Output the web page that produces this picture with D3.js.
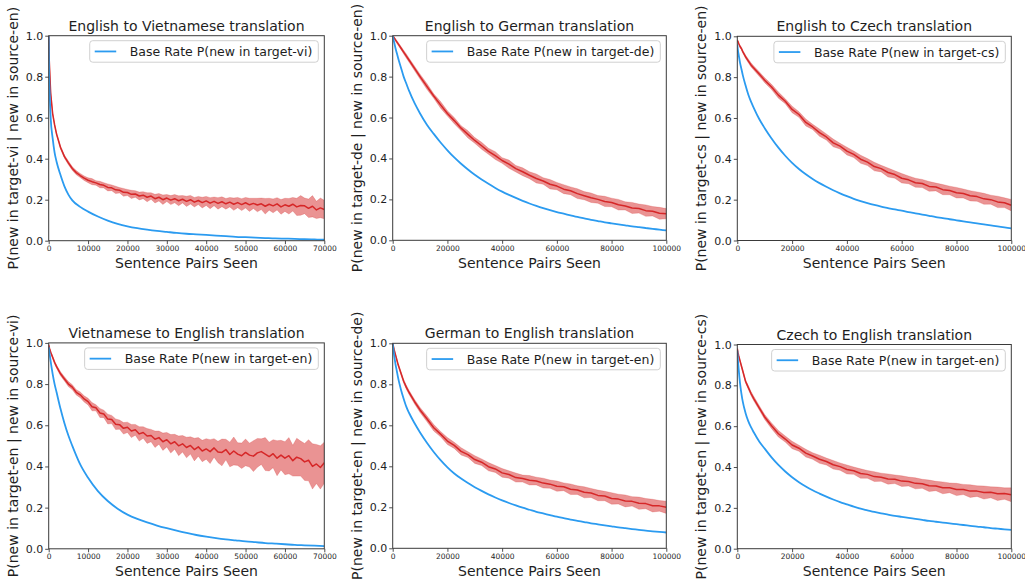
<!DOCTYPE html>
<html>
<head>
<meta charset="utf-8">
<script src="https://cdn.jsdelivr.net/npm/d3@7"></script>
<style>
  html, body { margin: 0; padding: 0; background: #fff; }
  svg { display: block; font-family: "DejaVu Sans", sans-serif; }
</style>
</head>
<body>
<svg id="chart" width="1025" height="579"></svg>
<script>
// ---------------- DATA ----------------
const titles = ["English to Vietnamese translation", "English to German translation", "English to Czech translation",
                "Vietnamese to English translation", "German to English translation", "Czech to English translation"];
const yLabels = ["P(new in target-vi | new in source-en)", "P(new in target-de | new in source-en)", "P(new in target-cs | new in source-en)",
                 "P(new in target-en | new in source-vi)", "P(new in target-en | new in source-de)", "P(new in target-en | new in source-cs)"];
const legendLabels = ["Base Rate P(new in target-vi)", "Base Rate P(new in target-de)", "Base Rate P(new in target-cs)",
                      "Base Rate P(new in target-en)", "Base Rate P(new in target-en)", "Base Rate P(new in target-en)"];
const xLabel = "Sentence Pairs Seen";
const xMaxes = [70000, 100000, 100000, 70000, 100000, 100000];
const xTicksVI = [0, 10000, 20000, 30000, 40000, 50000, 60000, 70000];
const xTicksK = [0, 20000, 40000, 60000, 80000, 100000];
const yTicks = [0.0, 0.2, 0.4, 0.6, 0.8, 1.0];

// x grids
const gridVI = [0,100,250,500,1000,1500,2000,3000,4000,5000,6000,7000,8000,9000,10000,11000,12000,13000,14000,15000,16000,17000,18000,19000,20000,21000,22000,23000,24000,25000,26000,27000,28000,29000,30000,31000,32000,33000,34000,35000,36000,37000,38000,39000,40000,41000,42000,43000,44000,45000,46000,47000,48000,49000,50000,51000,52000,53000,54000,55000,56000,57000,58000,59000,60000,61000,62000,63000,64000,65000,66000,67000,68000,69000,70000];
const gridVIBase = [0,100,250,500,1000,1500,2000,3000,4000,5000,6000,8000,10000,12500,15000,17500,20000,22500,25000,27500,30000,32500,35000,37500,40000,42500,45000,47500,50000,52500,55000,57500,60000,62500,65000,67500,70000];
const gridK = [0,250,500,1000,1500,2000,3000,4000,5000,6000,8000,10000,12500,15000,17500,20000,22500,25000,27500,30000,32500,35000,37500,40000,42500,45000,47500,50000,52500,55000,57500,60000,62500,65000,67500,70000,72500,75000,77500,80000,82500,85000,87500,90000,92500,95000,97500,100000];

// English -> Vietnamese
const baseEnVi = [1.0,0.82,0.72,0.6,0.5,0.43,0.385,0.32,0.265,0.225,0.197,0.165,0.142,0.118,0.098,0.082,0.07,0.061,0.054,0.048,0.043,0.038,0.034,0.031,0.028,0.025,0.022,0.019,0.017,0.015,0.013,0.011,0.01,0.009,0.007,0.006,0.005];
const condEnVi = [1.0,0.9,0.83,0.72,0.62,0.565,0.52,0.455,0.41,0.38,0.352,0.332,0.318,0.305,
  0.295,0.288,0.282,0.274,0.27,0.26,0.258,0.248,0.246,0.236,
  0.235,0.226,0.228,0.218,0.222,0.212,0.218,0.205,0.212,0.2,
  0.208,0.198,0.205,0.195,0.202,0.192,0.2,0.188,0.196,0.186,
  0.194,0.183,0.192,0.182,0.19,0.18,0.188,0.178,0.186,0.176,
  0.185,0.175,0.182,0.174,0.18,0.168,0.178,0.17,0.18,0.165,
  0.175,0.168,0.178,0.165,0.172,0.17,0.158,0.168,0.15,0.16,
  0.152];
const spreadEnVi = [0.004,0.005,0.005,0.006,0.006,0.007,0.007,0.008,0.008,0.009,0.009,0.01,0.01,0.011,
  0.012,0.015,0.011,0.016,0.013,0.017,0.014,0.018,0.013,0.019,
  0.015,0.02,0.016,0.019,0.017,0.022,0.016,0.021,0.018,0.023,
  0.017,0.022,0.02,0.024,0.018,0.025,0.021,0.023,0.02,0.026,
  0.022,0.027,0.021,0.028,0.024,0.026,0.023,0.03,0.025,0.029,
  0.026,0.032,0.025,0.033,0.028,0.038,0.029,0.034,0.03,0.036,
  0.032,0.038,0.033,0.042,0.048,0.038,0.045,0.052,0.042,0.048,
  0.045];

// English -> German
const baseEnDe = [1.0,0.985,0.97,0.94,0.915,0.89,0.845,0.8,0.765,0.73,0.67,0.62,
  0.565,0.52,0.478,0.44,0.405,0.374,0.346,0.32,0.297,0.276,0.256,0.238,0.222,0.207,0.193,0.18,0.168,0.157,0.147,0.138,
  0.13,0.122,0.114,0.107,0.1,0.094,0.088,0.083,0.078,0.073,0.068,0.064,0.06,0.056,0.052,0.048];
const condEnDe = [1.0,0.995,0.99,0.98,0.97,0.96,0.94,0.92,0.9,0.88,0.84,0.8,
  0.752,0.705,0.662,0.62,0.585,0.548,0.518,0.488,0.462,0.435,0.414,0.39,0.372,0.35,0.335,0.318,
  0.302,0.29,0.274,0.265,0.25,0.242,0.228,0.218,0.208,0.2,0.19,0.185,0.174,0.168,0.158,0.155,0.145,0.142,0.132,0.13];
const spreadEnDe = [0.004,0.004,0.005,0.006,0.007,0.007,0.008,0.009,0.01,0.01,0.011,0.012,
  0.014,0.011,0.016,0.013,0.015,0.012,0.018,0.014,0.017,0.015,0.019,0.014,0.02,0.016,0.019,0.017,0.022,0.016,
  0.023,0.018,0.022,0.019,0.024,0.02,0.023,0.019,0.025,0.021,0.026,0.02,0.027,0.022,0.028,0.023,0.029,0.025];

// English -> Czech
const baseEnCs = [0.96,0.93,0.91,0.87,0.84,0.81,0.76,0.715,0.68,0.65,0.595,0.55,
  0.5,0.455,0.415,0.38,0.35,0.324,0.301,0.281,0.263,0.246,0.231,0.217,0.204,0.193,0.183,0.174,
  0.166,0.159,0.152,0.146,0.139,0.133,0.127,0.121,0.115,0.11,0.104,0.099,0.094,0.089,0.084,0.079,0.074,0.069,0.064,0.059];
const condEnCs = [0.98,0.975,0.965,0.95,0.94,0.925,0.9,0.88,0.86,0.845,0.815,0.785,
  0.752,0.712,0.682,0.642,0.617,0.578,0.556,0.528,0.507,0.478,0.462,0.438,0.422,0.398,0.384,0.362,
  0.352,0.333,0.323,0.305,0.297,0.283,0.279,0.265,0.262,0.249,0.245,0.234,0.23,0.219,0.215,0.204,0.2,0.189,0.185,0.173];
const spreadEnCs = [0.004,0.004,0.005,0.006,0.007,0.007,0.008,0.009,0.01,0.01,0.011,0.012,
  0.013,0.015,0.012,0.016,0.014,0.017,0.013,0.018,0.015,0.019,0.014,0.019,0.016,0.02,0.017,0.021,0.016,0.022,
  0.018,0.023,0.019,0.022,0.02,0.024,0.019,0.025,0.021,0.026,0.022,0.025,0.023,0.027,0.022,0.028,0.024,0.028];

// Vietnamese -> English
const baseViEn = [0.98,0.965,0.945,0.91,0.85,0.8,0.76,0.68,0.61,0.55,0.5,0.41,0.345,0.28,0.232,0.195,0.166,0.145,0.128,0.113,0.1,0.088,0.077,0.067,0.059,0.052,0.046,0.041,0.036,0.032,0.028,0.025,0.022,0.019,0.017,0.015,0.013];
const condViEn = [0.99,0.98,0.97,0.955,0.93,0.905,0.885,0.85,0.825,0.8,0.785,0.76,0.748,0.728,
  0.715,0.69,0.685,0.66,0.655,0.63,0.628,0.605,0.603,0.585,
  0.59,0.572,0.578,0.558,0.565,0.548,0.55,0.532,0.54,0.52,
  0.53,0.51,0.52,0.5,0.51,0.492,0.502,0.482,0.495,0.475,
  0.485,0.472,0.49,0.47,0.468,0.482,0.458,0.475,0.46,0.452,
  0.468,0.455,0.45,0.466,0.472,0.46,0.448,0.462,0.44,0.455,
  0.44,0.452,0.428,0.445,0.438,0.422,0.43,0.4,0.412,0.395,
  0.418];
const spreadViEn = [0.005,0.005,0.006,0.006,0.007,0.008,0.008,0.01,0.01,0.012,0.012,0.013,0.014,0.015,
  0.016,0.02,0.015,0.022,0.018,0.024,0.02,0.026,0.022,0.028,
  0.025,0.032,0.026,0.035,0.028,0.036,0.03,0.04,0.032,0.042,
  0.035,0.045,0.036,0.048,0.04,0.05,0.042,0.055,0.045,0.052,
  0.05,0.058,0.045,0.052,0.065,0.05,0.06,0.068,0.055,0.062,
  0.065,0.058,0.075,0.07,0.062,0.08,0.07,0.068,0.085,0.072,
  0.08,0.088,0.075,0.092,0.085,0.09,0.1,0.11,0.095,0.105,
  0.1];

// German -> English
const baseDeEn = [1.0,0.97,0.945,0.9,0.865,0.83,0.775,0.73,0.69,0.66,0.61,0.565,
  0.515,0.47,0.43,0.395,0.365,0.34,0.318,0.298,0.28,0.263,0.248,0.234,0.221,0.209,0.198,0.188,
  0.178,0.17,0.162,0.154,0.147,0.14,0.134,0.128,0.122,0.117,0.112,0.107,0.102,0.098,0.094,0.09,0.086,0.083,0.08,0.077];
const condDeEn = [1.0,0.985,0.97,0.945,0.92,0.895,0.855,0.815,0.785,0.76,0.715,0.675,
  0.632,0.588,0.557,0.523,0.502,0.473,0.457,0.433,0.42,0.398,0.387,0.368,0.36,0.345,0.34,0.332,
  0.328,0.318,0.313,0.303,0.3,0.288,0.284,0.273,0.27,0.258,0.255,0.243,0.24,0.231,0.229,0.22,0.218,0.208,0.207,0.2];
const spreadDeEn = [0.004,0.004,0.005,0.006,0.007,0.007,0.008,0.009,0.01,0.01,0.011,0.012,
  0.014,0.016,0.013,0.017,0.015,0.018,0.014,0.019,0.016,0.02,0.017,0.021,0.018,0.022,0.017,0.023,0.019,0.024,
  0.02,0.025,0.019,0.026,0.021,0.027,0.022,0.026,0.023,0.028,0.024,0.029,0.023,0.03,0.025,0.031,0.026,0.03];

// Czech -> English
const baseCsEn = [0.97,0.92,0.88,0.81,0.76,0.72,0.665,0.625,0.595,0.57,0.525,0.49,
  0.447,0.41,0.378,0.35,0.326,0.305,0.286,0.27,0.255,0.241,0.228,0.217,0.206,0.196,0.188,0.18,
  0.173,0.167,0.161,0.156,0.151,0.146,0.141,0.136,0.132,0.128,0.124,0.12,0.116,0.112,0.108,0.105,0.101,0.098,0.095,0.092];
const condCsEn = [0.98,0.96,0.945,0.92,0.895,0.87,0.82,0.79,0.76,0.735,0.69,0.645,
  0.602,0.563,0.537,0.508,0.492,0.468,0.454,0.438,0.427,0.411,0.402,0.388,0.382,0.368,0.364,0.353,
  0.35,0.341,0.34,0.331,0.329,0.32,0.318,0.308,0.307,0.298,0.298,0.29,0.29,0.282,0.282,0.275,0.276,0.269,0.27,0.264];
const spreadCsEn = [0.004,0.005,0.005,0.006,0.007,0.008,0.008,0.009,0.01,0.011,0.011,0.012,
  0.014,0.016,0.015,0.018,0.015,0.019,0.016,0.02,0.017,0.021,0.018,0.022,0.018,0.023,0.019,0.024,0.02,0.025,
  0.021,0.026,0.022,0.027,0.022,0.028,0.023,0.029,0.024,0.03,0.025,0.031,0.026,0.032,0.027,0.033,0.028,0.034];

// ---------------- RENDER ----------------
const panels = [
  {bx: gridVIBase, base: baseEnVi, cx: gridVI, cond: condEnVi, spread: spreadEnVi, ticks: xTicksVI},
  {bx: gridK, base: baseEnDe, cx: gridK, cond: condEnDe, spread: spreadEnDe, ticks: xTicksK},
  {bx: gridK, base: baseEnCs, cx: gridK, cond: condEnCs, spread: spreadEnCs, ticks: xTicksK},
  {bx: gridVIBase, base: baseViEn, cx: gridVI, cond: condViEn, spread: spreadViEn, ticks: xTicksVI},
  {bx: gridK, base: baseDeEn, cx: gridK, cond: condDeEn, spread: spreadDeEn, ticks: xTicksK},
  {bx: gridK, base: baseCsEn, cx: gridK, cond: condCsEn, spread: spreadCsEn, ticks: xTicksK}
];
const boxes = [
  {l: 48.7, r: 324.3, t: 35.7, b: 240.7},
  {l: 392.7, r: 666.3, t: 35.7, b: 240.3},
  {l: 737.3, r: 1011.3, t: 36.3, b: 240.5},
  {l: 48.7, r: 324.3, t: 342.9, b: 548.8},
  {l: 392.7, r: 666.3, t: 343.3, b: 548.3},
  {l: 737.3, r: 1011.3, t: 344.5, b: 548.7}
];

const BLUE = "#2b9bf0";
const RED = "#d62728";
const AX = "#3a3a3a";
const TXT = "#1e1e1e";

const svg = d3.select("#chart");
svg.append("rect").attr("width", 1025).attr("height", 579).attr("fill", "#fff");

panels.forEach((p, i) => {
  const bx = boxes[i];
  const x = d3.scaleLinear().domain([0, xMaxes[i]]).range([bx.l, bx.r]);
  const y = d3.scaleLinear().domain([0, 1]).range([bx.b, bx.t]);
  const g = svg.append("g");

  const clipId = "clip" + i;
  g.append("clipPath").attr("id", clipId)
    .append("rect").attr("x", bx.l).attr("y", bx.t).attr("width", bx.r - bx.l).attr("height", bx.b - bx.t);
  const plot = g.append("g").attr("clip-path", `url(#${clipId})`);

  const cond = d3.zip(p.cx, p.cond, p.spread);
  const area = d3.area().x(d => x(d[0])).y0(d => y(d[1] - d[2])).y1(d => y(d[1] + d[2]));
  plot.append("path").datum(cond).attr("d", area)
    .attr("fill", RED).attr("fill-opacity", 0.5).attr("stroke", RED).attr("stroke-opacity", 0.35).attr("stroke-width", 0.6);
  plot.append("path").datum(cond)
    .attr("d", d3.line().x(d => x(d[0])).y(d => y(d[1])))
    .attr("fill", "none").attr("stroke", RED).attr("stroke-width", 1.5).attr("stroke-linejoin", "round");

  const base = d3.zip(p.bx, p.base);
  plot.append("path").datum(base)
    .attr("d", d3.line().curve(d3.curveMonotoneX).x(d => x(d[0])).y(d => y(d[1])))
    .attr("fill", "none").attr("stroke", BLUE).attr("stroke-width", 1.8).attr("stroke-linejoin", "round");

  // axes
  const xAxis = d3.axisBottom(x).tickValues(p.ticks).tickSize(3.5).tickPadding(1.5).tickFormat(d3.format("d"));
  const gx = g.append("g").attr("transform", `translate(0,${bx.b})`).call(xAxis);
  gx.select(".domain").remove();
  gx.selectAll(".tick line").attr("stroke", AX).attr("stroke-width", 0.9);
  gx.selectAll(".tick text").attr("fill", TXT).style("font-size", "7.5px").attr("font-family", "DejaVu Sans");

  const yAxis = d3.axisLeft(y).tickValues(yTicks).tickSize(3.5).tickPadding(2).tickFormat(d3.format(".1f"));
  const gy = g.append("g").attr("transform", `translate(${bx.l},0)`).call(yAxis);
  gy.select(".domain").remove();
  gy.selectAll(".tick line").attr("stroke", AX).attr("stroke-width", 0.9);
  gy.selectAll(".tick text").attr("fill", TXT).style("font-size", "11px").attr("font-family", "DejaVu Sans");

  g.append("rect").attr("x", bx.l).attr("y", bx.t).attr("width", bx.r - bx.l).attr("height", bx.b - bx.t)
    .attr("fill", "none").attr("stroke", AX).attr("stroke-width", 1);

  // title
  g.append("text").attr("x", (bx.l + bx.r) / 2).attr("y", bx.t - 5)
    .attr("text-anchor", "middle").attr("fill", TXT).style("font-size", "14px").text(titles[i]);
  // x label
  g.append("text").attr("x", (bx.l + bx.r) / 2).attr("y", bx.b + 27.5)
    .attr("text-anchor", "middle").attr("fill", TXT).style("font-size", "14px").text(xLabel);
  // y label
  const cy = (bx.t + bx.b) / 2, lx = bx.l - 31;
  g.append("text").attr("transform", `translate(${lx},${cy}) rotate(-90)`)
    .attr("text-anchor", "middle").attr("fill", TXT).style("font-size", "14px").text(yLabels[i]);

  // legend
  const lg = g.append("g");
  const lt = lg.append("text").attr("fill", TXT).style("font-size", "12.5px").text(legendLabels[i]);
  const tw = lt.node().getComputedTextLength();
  const w = tw + 46, h = 21.5;
  const x0 = bx.r - 6 - w, y0 = bx.t + 5;
  lg.insert("rect", "text").attr("x", x0).attr("y", y0).attr("width", w).attr("height", h).attr("rx", 3)
    .attr("fill", "#fff").attr("fill-opacity", 0.85).attr("stroke", "#d0d0d0").attr("stroke-width", 1);
  lg.append("line").attr("x1", x0 + 5).attr("x2", x0 + 26.5).attr("y1", y0 + h / 2).attr("y2", y0 + h / 2)
    .attr("stroke", BLUE).attr("stroke-width", 1.8);
  lt.attr("x", x0 + 40).attr("y", y0 + h / 2 + 4.5);
});
</script>
</body>
</html>
